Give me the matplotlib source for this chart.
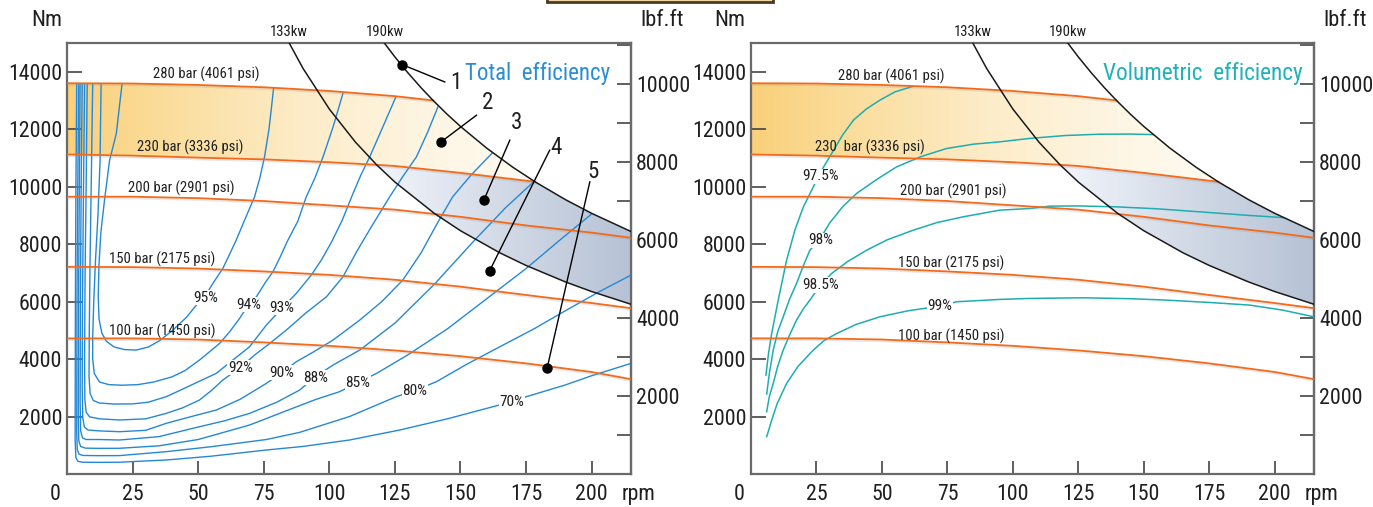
import numpy as np
import matplotlib
matplotlib.use('Agg')
import matplotlib.pyplot as plt
from matplotlib.patches import Polygon, Rectangle
import matplotlib.patheffects as pe
from matplotlib import font_manager as fm
from matplotlib.textpath import TextToPath

# ---------------- font choice: regular-weight face with narrow digits ----------------
t2p = TextToPath()
ALLOWED = ('Liberation Sans', 'Noto Sans', 'DejaVu Sans', 'Roboto', 'Open Sans', 'Lato', 'Inter')
BAD = ('Mono', 'CJK', 'Math', 'Symbol', 'Emoji', 'Display', 'Serif')
NOTO_OK = ('Noto Sans', 'Noto Sans Condensed', 'Noto Sans SemiCondensed', 'Noto Sans ExtraCondensed')


def _weight(w):
    if isinstance(w, (int, float)):
        return int(w)
    try:
        return int(w)
    except Exception:
        return fm.weight_dict.get(str(w).lower(), 400)


best = None
for e in fm.fontManager.ttflist:
    name = e.name
    if not name.startswith(ALLOWED) or any(b in name for b in BAD):
        continue
    if name.startswith('Noto Sans') and name not in NOTO_OK:
        continue
    if e.style != 'normal':
        continue
    wt = _weight(e.weight)
    if wt < 300 or wt > 400:
        continue
    try:
        wd, _, _ = t2p.get_text_width_height_descent('00000', fm.FontProperties(fname=e.fname, size=100),
                                                     ismath=False)
    except Exception:
        continue
    em = wd / 500.0
    score = abs(em - 0.46) + (0.01 if wt < 400 else 0.0)
    if best is None or score < best[0]:
        best = (score, e, em)

if best is not None:
    _e = best[1]
    plt.rcParams['font.family'] = [_e.name, 'DejaVu Sans']
    plt.rcParams['font.stretch'] = _e.stretch
    plt.rcParams['font.weight'] = _e.weight
    FONT_FILE = _e.fname
else:
    plt.rcParams['font.family'] = ['DejaVu Sans']
    FONT_FILE = None


def fit(text, target_px, max_pt=30):
    """font size (pt) so that `text` is about target_px wide at 100 dpi"""
    prop = fm.FontProperties(fname=FONT_FILE, size=100) if FONT_FILE else fm.FontProperties(size=100)
    wd, _, _ = t2p.get_text_width_height_descent(text, prop, ismath=False)
    px100 = wd * 100 / 72.0
    return min(max_pt, 100 * target_px / px100)


# ---------------- data ----------------
rpm_ticks = [25, 50, 75, 100, 125, 150, 175, 200]
nm_ticks = [2000, 4000, 6000, 8000, 10000, 12000, 14000]
lbf_ticks = [1000, 2000, 3000, 4000, 5000, 6000, 7000, 8000, 9000, 10000, 11000]
lbf_labeled = [2000, 4000, 6000, 8000, 10000]

p_rpm = [0, 25, 50, 75, 100, 125, 150, 175, 200, 215]
bar100 = [4720, 4720, 4680, 4580, 4460, 4300, 4100, 3850, 3550, 3300]
bar150 = [7210, 7200, 7150, 7050, 6930, 6760, 6520, 6230, 5950, 5770]
bar200 = [9650, 9650, 9600, 9500, 9350, 9200, 8950, 8650, 8400, 8220]
bar230_rpm = [0, 25, 50, 75, 100, 118, 125, 150, 178.5]
bar230 = [11120, 11080, 11010, 10950, 10850, 10760, 10720, 10480, 10170]
bar280_rpm = [0, 25, 50, 75, 100, 125, 139.6]
bar280 = [13600, 13590, 13540, 13460, 13330, 13150, 13000]

kw133_rpm = [84.7, 90, 100, 110, 118, 125, 140, 150, 165, 175, 190, 200, 215]
kw133 = [15000, 14112, 12701, 11546, 10763, 10160, 9072, 8467, 7697, 7258, 6685, 6350, 5907]
kw190_rpm = [121, 125, 130, 135, 139.6, 145, 150, 160, 170, 178.5, 190, 200, 215]
kw190 = [14995, 14515, 13957, 13440, 12997, 12513, 12096, 11340, 10673, 10165, 9549, 9072, 8439]

pressure_labels = ['100 bar (1450 psi)', '150 bar (2175 psi)', '200 bar (2901 psi)',
                   '230 bar (3336 psi)', '280 bar (4061 psi)']

eff_levels = ['95%', '94%', '93%', '92%', '90%', '88%', '85%', '80%', '70%']
eff95 = [(21, 13590), (18.8, 11850), (16.2, 10900), (14.3, 9530), (12.9, 8400), (12.2, 7300),
         (11.9, 6200), (12.2, 5400), (13.3, 4900), (15, 4620), (18, 4420), (22, 4330), (26.4, 4313),
         (31, 4420), (35.3, 4640), (40, 4980), (45.5, 5450), (49.5, 5900), (52.7, 6200), (55.6, 6632),
         (59.4, 7154), (62, 7650), (64.5, 8139), (68, 8900), (71.5, 9646), (73.5, 10300),
         (75.3, 11037), (77, 12000), (78, 12800), (78.8, 13470)]
eff94 = [(13, 13590), (12.6, 10900), (11.8, 9000), (10.9, 7500), (10.2, 6000), (9.8, 4800),
         (9.8, 4000), (10.4, 3500), (12.4, 3200), (16, 3110), (21, 3090), (27, 3110), (33, 3200),
         (40, 3380), (45, 3600), (50.5, 3965), (58.2, 4546), (62, 4950), (65.8, 5415), (69.2, 5896),
         (72.2, 6167), (75.5, 6650), (78.5, 7038), (81, 7500), (84, 8100), (88, 8800), (91.2, 9646),
         (94.5, 10300), (97.6, 11037), (101.5, 12100), (105.2, 13250)]
eff93 = [(9.8, 13590), (9.3, 10500), (8.8, 7500), (8.5, 5000), (8.4, 3400), (8.8, 2800), (10, 2560),
         (12.4, 2470), (18, 2435), (25, 2440), (31, 2500), (37.8, 2690), (44, 2950), (50.5, 3230),
         (56.9, 3502), (63, 3950), (69.6, 4429), (76, 5183), (82, 5774), (87.4, 6284), (93.1, 6922),
         (97, 7450), (101, 8100), (105, 8850), (108.5, 9646), (112, 10400), (115.4, 11037),
         (120.5, 12100), (125.5, 13150)]
eff92 = [(7.7, 13590), (7.3, 10000), (6.9, 7000), (6.7, 4000), (6.8, 2600), (7.3, 2150), (8.6, 1990),
         (12.4, 1920), (20, 1880), (30, 1920), (37.8, 2110), (44, 2300), (50.5, 2574), (55, 2900),
         (59.4, 3270), (66.1, 3704), (71.5, 4139), (77.5, 4560), (83.6, 5009), (91, 5600),
         (98.9, 6167), (105.2, 6864), (110.5, 7750), (116, 8600), (123, 9646), (128, 10350),
         (133.2, 11037), (137.5, 11900), (141.4, 12776)]
eff90 = [(6.7, 13590), (6.3, 10000), (5.9, 6000), (5.8, 3000), (6, 1950), (6.6, 1640), (8, 1530),
         (12.4, 1500), (20, 1472), (30, 1520), (37.8, 1763), (47, 1990), (56.9, 2226), (66, 2600),
         (76, 3154), (82, 3530), (87.4, 3907), (94, 4250), (101.4, 4661), (111.6, 5357), (120, 6000),
         (128, 6748), (135, 7700), (141, 8700), (147, 9646), (154, 10400), (162.4, 11200)]
eff88 = [(5.8, 13590), (5.4, 10000), (5.1, 6000), (5.0, 2500), (5.2, 1500), (5.9, 1260), (7.2, 1200),
         (12.4, 1200), (20, 1183), (35, 1300), (50.5, 1645), (60, 1850), (69.6, 2110), (80, 2500),
         (88.7, 2922), (94.7, 3391), (101.4, 3791), (111.6, 4313), (125, 5250), (140, 6600),
         (155, 8100), (167, 9250), (178, 10180)]
eff85 = [(5.0, 13590), (4.7, 10000), (4.4, 6000), (4.3, 2000), (4.5, 1150), (5.2, 960), (7, 900),
         (12, 893), (20, 895), (35, 980), (50, 1200), (69.6, 1704), (85, 2250), (95, 2600),
         (103.9, 2864), (110.9, 3183), (118, 3500), (130, 4150), (145, 5050), (160, 6100),
         (175, 7150), (188, 8150), (200.4, 9080)]
eff80 = [(4.5, 13590), (4.1, 10000), (3.8, 6000), (3.7, 1500), (3.9, 850), (4.6, 690), (6, 645),
         (12, 638), (20, 640), (37.8, 777), (55, 950), (76, 1200), (88.7, 1450), (107.7, 2000),
         (125.5, 2690), (132.5, 2904), (140.8, 3211), (152, 3800), (165, 4429), (178, 5050),
         (190.4, 5704), (203, 6350), (215, 6922)]
eff70 = [(3.7, 13590), (3.4, 10000), (3.2, 6000), (3.1, 1200), (3.4, 560), (4.2, 440), (6, 410),
         (12, 405), (20, 410), (37.8, 487), (55, 620), (76, 835), (90, 960), (107.7, 1183),
         (126.8, 1530), (145, 1920), (160, 2284), (169.7, 2522), (175.1, 2690), (190, 3100),
         (200, 3420), (215, 3849)]

vol_levels = ['97.5%', '98%', '98.5%', '99%']
vol975 = [(5.7, 3443), (6.7, 4200), (7.9, 4893), (10.4, 6052), (13.6, 7443), (16.8, 8500),
          (20, 9297), (23.8, 9993), (26.5, 10500), (30.8, 11154), (35, 11800), (39.1, 12313),
          (44, 12700), (49.2, 13009), (55, 13300), (62, 13496)]
vol98 = [(6, 2783), (7, 3500), (8.5, 4313), (10.2, 4950), (12.3, 5471), (14.8, 6100), (17.4, 6632),
         (20, 7250), (22.5, 7791), (26.5, 8200), (30, 8730), (35, 9300), (40.3, 9763), (48, 10250),
         (55.6, 10689), (65, 11050), (74.7, 11328), (85, 11480), (95, 11560), (106.5, 11680),
         (120, 11780), (133, 11826), (145, 11830), (153.6, 11812)]
vol985 = [(6, 2168), (7, 2700), (8.5, 3154), (10.2, 3750), (12.3, 4313), (14.8, 4850), (17.4, 5357),
          (20, 5750), (22.5, 6052), (26.5, 6574), (30.8, 6980), (37, 7400), (44.2, 7791), (52, 8150),
          (62, 8487), (71, 8750), (81, 8950), (95, 9183), (106.5, 9240), (114, 9322), (125, 9330),
          (139.5, 9298), (155, 9230), (171.4, 9124), (190, 9000), (203.8, 8920)]
vol99 = [(6, 1299), (8, 1900), (10, 2450), (13.6, 3154), (18, 3750), (23.8, 4313), (28, 4650),
         (32.8, 4893), (40, 5200), (49.2, 5471), (60, 5680), (72.1, 5843), (78.5, 5994), (95, 6076),
         (106.5, 6110), (126.8, 6133), (145, 6100), (158.6, 6052), (175, 5970), (190.5, 5878),
         (203, 5704), (215, 5471)]

callout_names = ['1', '2', '3', '4', '5']
callout_points = [(127.8, 14247), (142.6, 11558), (158.9, 9530), (161.1, 7071), (183, 3677)]

# ---------------- styles ----------------
W, H = 1373, 507
ORANGE = '#F26A1B'
BLUE = '#2588D6'
TEAL = '#1EADB0'
SPINE = '#6a6a6a'
TXT = '#1f1f1f'
XMAX, YMAX = 215, 15000
NM_PER_LBF = 1.3558

FS_TICK = fit('14000', 54)
FS_UNIT = fit('lbf.ft', 43)
FS_PRESS = fit('280 bar (4061 psi)', 106)
FS_EFF = fit('95%', 25)
FS_KW = fit('133kw', 38)
FS_NUM = FS_TICK * 1.05
FS_TOTAL = fit('Total  efficiency', 145)
FS_VOL = fit('Volumetric  efficiency', 200)

fig = plt.figure(figsize=(W / 100, H / 100), dpi=100)


def px_axes(x0, x1, y0, y1):
    return [x0 / W, 1 - y1 / H, (x1 - x0) / W, (y1 - y0) / H]


axL = fig.add_axes(px_axes(67, 631, 43, 474))
axR = fig.add_axes(px_axes(751, 1314, 43, 474))


def gradient(ax, poly, stops_x, stops_rgb):
    xs = np.linspace(0, XMAX, 500)
    cols = np.stack([np.interp(xs, stops_x, [c[i] for c in stops_rgb]) for i in range(3)], axis=-1) / 255.0
    img = cols[np.newaxis, :, :]
    patch = Polygon(poly, closed=True, facecolor='none', edgecolor='none')
    ax.add_patch(patch)
    im = ax.imshow(img, extent=[0, XMAX, 0, YMAX], aspect='auto', origin='lower',
                   interpolation='bilinear', zorder=1)
    im.set_clip_path(patch)


def draw_panel(ax, kind):
    ax.set_xlim(0, XMAX)
    ax.set_ylim(0, YMAX)

    yellow = [(x, y) for x, y in zip(bar280_rpm, bar280)]
    yellow += [(x, y) for x, y in zip(kw190_rpm, kw190) if 139.6 < x < 178.5]
    yellow += [(x, y) for x, y in zip(bar230_rpm[::-1], bar230[::-1])]
    gradient(ax, yellow, [0, 40, 90, 140, 180],
             [(249, 208, 122), (251, 222, 158), (253, 236, 200), (254, 246, 228), (255, 251, 242)])

    blue = [(x, y) for x, y in zip(bar230_rpm, bar230) if x >= 118]
    blue += [(x, y) for x, y in zip(kw190_rpm, kw190) if x > 178.5]
    blue += [(x, y) for x, y in zip(kw133_rpm[::-1], kw133[::-1]) if x >= 118]
    gradient(ax, blue, [110, 140, 170, 215],
             [(246, 248, 252), (228, 233, 242), (208, 216, 229), (182, 194, 213)])

    shadow = [pe.SimpleLineShadow(offset=(0.5, -1.3), shadow_color='#999999', alpha=0.22),
              pe.Normal()]
    for ys in (bar100, bar150, bar200):
        ax.plot(p_rpm, ys, color=ORANGE, lw=1.3, zorder=4, path_effects=shadow)
    ax.plot(bar230_rpm, bar230, color=ORANGE, lw=1.3, zorder=4, path_effects=shadow)
    ax.plot(bar280_rpm, bar280, color=ORANGE, lw=1.3, zorder=4, path_effects=shadow)

    ax.plot(kw133_rpm, kw133, color='#1a1a1a', lw=1.1, zorder=5)
    ax.plot(kw190_rpm, kw190, color='#1a1a1a', lw=1.1, zorder=5)
    ax.text(84.7, 15130, '133kw', fontsize=FS_KW, ha='center', va='bottom', clip_on=False, color=TXT)
    ax.text(121, 15130, '190kw', fontsize=FS_KW, ha='center', va='bottom', clip_on=False, color=TXT)

    clip_poly = [(0, 0)] + list(zip(bar280_rpm, bar280))
    clip_poly += [(x, y) for x, y in zip(kw190_rpm, kw190) if x > 139.6] + [(XMAX, 0)]
    clip_patch = Polygon(clip_poly, closed=True, facecolor='none', edgecolor='none')
    ax.add_patch(clip_patch)

    txt_kw = dict(fontsize=FS_PRESS, ha='center', va='center', zorder=6, color=TXT)
    if kind == 'total':
        pl_pos = [(36.2, 4974), (36.2, 7460), (43.7, 9948), (47.1, 11357), (53.2, 13913)]
        for lab, (x, y) in zip(pressure_labels, pl_pos):
            ax.text(x, y, lab, **txt_kw)
        curves = [eff95, eff94, eff93, eff92, eff90, eff88, eff85, eff80, eff70]
        for c in curves:
            xs, ys = zip(*c)
            ln, = ax.plot(xs, ys, color=BLUE, lw=1.0, zorder=3)
            ln.set_clip_path(clip_patch)
        lab_pos = [(52.7, 6139), (69.2, 5896), (82, 5791), (66.1, 3704), (82, 3530),
                   (94.7, 3357), (110.9, 3183), (132.5, 2904), (169.7, 2522)]
        for lab, (x, y) in zip(eff_levels, lab_pos):
            ax.text(x, y, lab, fontsize=FS_EFF, ha='center', va='center', zorder=6, color=TXT,
                    bbox=dict(facecolor='white', edgecolor='none', pad=0.5))
        lab_xy = [(148.2, 13635), (160.5, 12922), (171.3, 12226), (186.6, 11374), (200.5, 10515)]
        line_end = [(144, 13645), (156.1, 12487), (168.8, 11617), (184, 11270), (199.3, 10167)]
        for name, (px_, py_), (lx, ly), (ex, ey) in zip(callout_names, callout_points, lab_xy, line_end):
            ax.plot([px_, ex], [py_, ey], color='black', lw=1.0, zorder=7)
            ax.plot([px_], [py_], 'o', color='black', ms=6.5, zorder=8)
            ax.text(lx, ly, name, fontsize=FS_NUM, ha='center', va='center', zorder=8, color=TXT)
        ax.text(0.963, 0.914, 'Total  efficiency', transform=ax.transAxes, fontsize=FS_TOTAL,
                color='#2B8CD8', ha='right', va='baseline', zorder=8)
    else:
        pl_pos = [(76.6, 4800), (76.6, 7339), (77.1, 9843), (45.4, 11374), (53.4, 13843)]
        labs = list(pressure_labels)
        labs[3] = '230  bar (3336 psi)'
        for lab, (x, y) in zip(labs, pl_pos):
            ax.text(x, y, lab, **txt_kw)
        curves = [vol975, vol98, vol985, vol99]
        for c in curves:
            xs, ys = zip(*c)
            ln, = ax.plot(xs, ys, color=TEAL, lw=1.1, zorder=3)
            ln.set_clip_path(clip_patch)
        lab_pos = [(26.5, 10365), (26.5, 8139), (26.5, 6574), (72.1, 5843)]
        for lab, (x, y) in zip(vol_levels, lab_pos):
            ax.text(x, y, lab, fontsize=FS_EFF, ha='center', va='center', zorder=6, color=TXT,
                    bbox=dict(facecolor='white', edgecolor='none', pad=0.5))
        ax.text(0.979, 0.914, 'Volumetric  efficiency', transform=ax.transAxes, fontsize=FS_VOL,
                color='#22B2B6', ha='right', va='baseline', zorder=8)

    for s in ax.spines.values():
        s.set_color(SPINE)
        s.set_linewidth(1.6)
    ax.set_xticks(rpm_ticks)
    ax.set_xticklabels([str(t) for t in rpm_ticks])
    ax.set_yticks(nm_ticks)
    ax.set_yticklabels([str(t) for t in nm_ticks])
    ax.tick_params(axis='x', direction='in', length=9.5, width=1.2, color='#444444',
                   labelsize=FS_TICK, pad=7.5, labelcolor=TXT)
    ax.tick_params(axis='y', direction='in', length=11, width=1.2, color='#444444',
                   labelsize=FS_TICK, pad=3.6, labelcolor=TXT)
    ax.text(-4.4, -0.047, '0', transform=ax.get_xaxis_transform(), fontsize=FS_TICK,
            ha='center', va='center', color=TXT, clip_on=False)
    ax.text(211.5, -0.047, 'rpm', transform=ax.get_xaxis_transform(), fontsize=FS_TICK,
            ha='left', va='center', color=TXT, clip_on=False)

    sec = ax.secondary_yaxis('right', functions=(lambda v: v / NM_PER_LBF, lambda v: v * NM_PER_LBF))
    sec.set_yticks(lbf_ticks)
    sec.set_yticklabels([str(t) if t in lbf_labeled else '' for t in lbf_ticks])
    sec.tick_params(direction='in', length=10, width=1.2, color='#444444', labelsize=FS_TICK,
                    pad=3.6, labelcolor=TXT)
    sec.spines['right'].set_color(SPINE)
    sec.spines['right'].set_linewidth(1.6)


draw_panel(axL, 'total')
draw_panel(axR, 'vol')

fig.text(62 / W, 1 - 21 / H, 'Nm', fontsize=FS_UNIT, ha='right', va='center', color=TXT)
fig.text(640 / W, 1 - 20 / H, 'lbf.ft', fontsize=FS_UNIT, ha='left', va='center', color=TXT)
fig.text(745 / W, 1 - 21 / H, 'Nm', fontsize=FS_UNIT, ha='right', va='center', color=TXT)
fig.text(1323 / W, 1 - 20 / H, 'lbf.ft', fontsize=FS_UNIT, ha='left', va='center', color=TXT)

fig.patches.append(Rectangle((547 / W, 1 - 2 / H), 226 / W, 0.05, transform=fig.transFigure,
                             facecolor='#EFD8A6', edgecolor='#4b3b23', lw=2, clip_on=False))

fig.savefig('out.png', dpi=100)
